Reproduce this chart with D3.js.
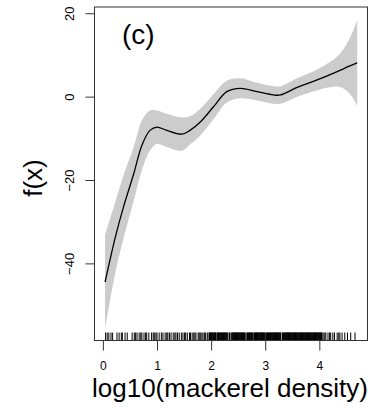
<!DOCTYPE html>
<html>
<head>
<meta charset="utf-8">
<script src="https://cdn.jsdelivr.net/npm/d3@7"></script>
<style>
  body { margin: 0; background: #fff; }
  text { font-family: "Liberation Sans", Arial, sans-serif; fill: #000; }
</style>
</head>
<body>
<svg id="chart" width="380" height="412"></svg>
<script>
// smooth term for log10(mackerel density)
let xs   = [0.04, 0.23, 0.38, 0.57, 0.72, 0.87, 1.00, 1.18, 1.46, 1.61, 1.80, 2.04, 2.29, 2.54, 2.85, 3.15, 3.28, 3.59, 3.96, 4.33, 4.50, 4.62, 4.70]
let fit  = [-44.5, -33.7, -26.5, -18.5, -11.7, -8.1, -7.3, -8.1, -9.0, -8.1, -6.1, -2.5, 1.2, 2.0, 1.2, 0.4, 0.4, 2.2, 4.0, 6.0, 7.0, 7.7, 8.1]
let half = [11.3, 8.5, 7.6, 6.5, 6.0, 4.8, 4.0, 4.0, 4.0, 3.4, 3.2, 3.0, 2.6, 2.4, 2.1, 2.1, 2.1, 2.2, 2.5, 3.6, 5.5, 8.0, 10.3]

// observations shown as rug: sparse below 2, packed from 2 to 4, thin tail
let rugLow = [0.05, 0.08, 0.11, 0.15, 0.18, 0.26, 0.30, 0.34, 0.36, 0.41, 0.45, 0.54, 0.58, 0.60, 0.63, 0.67, 0.70, 0.72,
  0.76, 0.79, 0.81, 0.85, 0.90, 0.93, 0.95, 0.98, 1.00, 1.04, 1.08, 1.11, 1.15, 1.18, 1.20, 1.23, 1.26, 1.30, 1.33,
  1.35, 1.38, 1.41, 1.45, 1.48, 1.51, 1.53, 1.56, 1.60, 1.62, 1.65, 1.68, 1.70, 1.72, 1.76, 1.78, 1.80, 1.83, 1.85,
  1.88, 1.90, 1.93]
let rugMid = [1.96, 1.97, 1.98, 1.99, 2.00, 2.01, 2.02, 2.03, 2.04, 2.05,
  2.06, 2.07, 2.08, 2.09, 2.11, 2.12, 2.13, 2.14, 2.15,
  2.16, 2.17, 2.18, 2.19, 2.20, 2.21, 2.22, 2.23, 2.24, 2.25,
  2.26, 2.27, 2.28, 2.29, 2.30, 2.33, 2.34, 2.35,
  2.38, 2.39, 2.40, 2.41, 2.42, 2.43, 2.44, 2.45,
  2.46, 2.47, 2.48, 2.49, 2.50, 2.51, 2.52, 2.53, 2.54, 2.55,
  2.56, 2.57, 2.58, 2.59, 2.60, 2.61, 2.62, 2.63,
  2.66, 2.67, 2.68, 2.69, 2.70, 2.71, 2.72, 2.73, 2.74, 2.75,
  2.76, 2.77, 2.79, 2.80, 2.81, 2.82, 2.83, 2.84, 2.85,
  2.86, 2.87, 2.88, 2.89, 2.90, 2.91, 2.92, 2.93, 2.94, 2.95,
  2.96, 2.97, 2.98, 2.99, 3.01, 3.02, 3.03, 3.04, 3.05,
  3.06, 3.07, 3.08, 3.09, 3.10, 3.11, 3.12, 3.13, 3.14, 3.15,
  3.16, 3.17, 3.18, 3.19, 3.20, 3.21, 3.22, 3.23, 3.24, 3.25,
  3.26, 3.27, 3.28, 3.29, 3.32, 3.33, 3.34, 3.35,
  3.36, 3.37, 3.38, 3.39, 3.40, 3.41, 3.42, 3.43, 3.44, 3.45,
  3.46, 3.47, 3.48, 3.49, 3.50, 3.51, 3.52, 3.53, 3.54, 3.55,
  3.56, 3.57, 3.58, 3.59, 3.60, 3.61, 3.62, 3.63, 3.64, 3.65,
  3.66, 3.67, 3.68, 3.69, 3.70, 3.71, 3.72, 3.73, 3.74, 3.75,
  3.76, 3.77, 3.78, 3.79, 3.80, 3.81, 3.82, 3.83, 3.84, 3.85,
  3.86, 3.87, 3.88, 3.89, 3.90, 3.91, 3.92, 3.93, 3.94, 3.95,
  3.96, 3.97, 3.98, 3.99, 4.00, 4.01, 4.02, 4.03, 4.04, 4.05]
let rugHigh = [4.07, 4.10, 4.12, 4.16, 4.19, 4.21, 4.25, 4.28, 4.33, 4.36, 4.38, 4.42, 4.47, 4.52, 4.58, 4.66]

let xTicks = [0, 1, 2, 3, 4]
let yTicks = [-40, -20, 0, 20]

// small stand-in for d3-selection-multi
d3.selection.prototype.attrs = function(obj) {
  Object.entries(obj).forEach(([k, v]) => this.attr(k, v))
  return this
}

let box = {left: 94.5, right: 367.5, top: 7, bottom: 340.5}
let svg = d3.select("#chart")

let x = d3.scaleLinear().domain([-0.155, 4.89]).range([box.left, box.right])
let y = d3.scaleLinear().domain([-58.5, 21.5]).range([box.bottom, box.top])

let pts = xs.map((v, i) => ({x: v, f: fit[i], lo: fit[i] - half[i], hi: fit[i] + half[i]}))
let rug = rugLow.concat(rugMid, rugHigh)

svg.append("clipPath").attr("id", "clip")
  .append("rect")
  .attrs({x: box.left, y: box.top, width: box.right - box.left, height: box.bottom - box.top})

let plot = svg.append("g").attr("clip-path", "url(#clip)")

plot.append("path")
  .datum(pts)
  .attrs({
    fill: "#cccccc",
    d: d3.area().x(d => x(d.x)).y0(d => y(d.lo)).y1(d => y(d.hi)).curve(d3.curveCatmullRom)
  })

plot.append("path")
  .datum(pts)
  .attrs({
    fill: "none",
    stroke: "#000",
    "stroke-width": 1.3,
    d: d3.line().x(d => x(d.x)).y(d => y(d.f)).curve(d3.curveCatmullRom)
  })

plot.append("g")
  .selectAll("line")
  .data(rug).enter()
  .append("line")
  .attrs({
    x1: d => x(d), x2: d => x(d),
    y1: box.bottom, y2: box.bottom - 8,
    stroke: "#000",
    "stroke-width": 1
  })

// frame
svg.append("rect")
  .attrs({
    x: box.left, y: box.top, width: box.right - box.left, height: box.bottom - box.top,
    fill: "none", stroke: "#333", "stroke-width": 1
  })

// axes, R style: no domain line, ticks outside the box
let xAxis = svg.append("g")
  .attr("transform", `translate(0,${box.bottom})`)
  .call(d3.axisBottom(x).tickValues(xTicks).tickSize(10).tickPadding(11).tickFormat(d3.format("d")))
xAxis.select(".domain").remove()
xAxis.selectAll("line").attr("stroke", "#333")
xAxis.selectAll("text").attr("font-size", 12).attr("fill", "#000").style("font-family", "Liberation Sans, Arial, sans-serif")

let yAxis = svg.append("g")
  .attr("transform", `translate(${box.left},0)`)
  .call(d3.axisLeft(y).tickValues(yTicks).tickSize(9).tickFormat(d3.format("d")))
yAxis.select(".domain").remove()
yAxis.selectAll("line").attr("stroke", "#333")
yAxis.selectAll("text")
  .attr("font-size", 13).attr("fill", "#000")
  .style("font-family", "Liberation Sans, Arial, sans-serif")
  .attr("text-anchor", "middle")
  .attr("x", null).attr("dy", null)
  .attr("transform", "translate(-25,0) rotate(-90)")
  .attr("y", 0)
  .attr("dominant-baseline", "central")

svg.append("text")
  .attrs({x: 122, y: 44, "font-size": 28})
  .text("(c)")

svg.append("text")
  .attrs({transform: `translate(42,178) rotate(-90)`, "text-anchor": "middle", "font-size": 26})
  .text("f(x)")

svg.append("text")
  .attrs({x: 230, y: 397, "text-anchor": "middle", "font-size": 26})
  .text("log10(mackerel density)")
</script>
</body>
</html>
